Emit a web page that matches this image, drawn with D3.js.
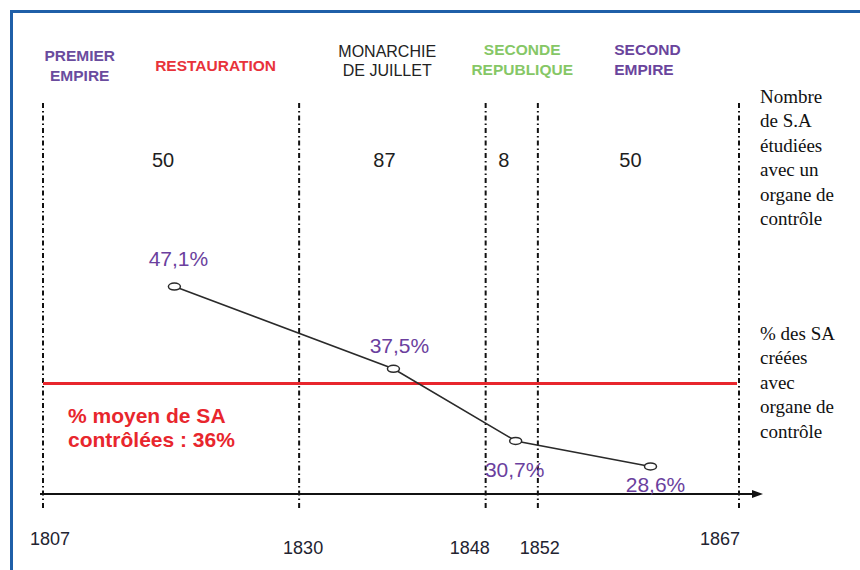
<!DOCTYPE html>
<html lang="fr">
<head>
  <meta charset="UTF-8">
  <meta name="viewport" content="width=device-width, initial-scale=1.0">
  <title>SA avec organe de contrôle</title>
  <style>
    body { margin: 0; background: #fff; }
    text { font-family: "Liberation Sans", Arial, sans-serif; }
    text.serif { font-family: "Liberation Serif", "Times New Roman", serif; }
  </style>
</head>
<body>
  <svg id="svg" width="860" height="570"></svg>
  <script src="https://d3js.org/d3.v7.min.js"></script>
  <script>
    // data
    const yearTicks = [1807, 1830, 1848, 1852, 1867]
    const periodNames = [['PREMIER', 'EMPIRE'], ['RESTAURATION'], ['MONARCHIE', 'DE JUILLET'], ['SECONDE', 'REPUBLIQUE'], ['SECOND', 'EMPIRE']]
    const periodCounts = [50, 87, 8, 50]
    const pointYears = [1818.8, 1839.1, 1850.3, 1860.4]
    const pctValues = [47.1, 37.5, 30.7, 28.6]
    const pctLabels = ['47,1%', '37,5%', '30,7%', '28,6%']
    const avgPct = 36
    const avgLabel = ['% moyen de SA', 'contrôlées : 36%']
    const noteCounts = ['Nombre', 'de S.A', 'étudiées', 'avec un', 'organe de', 'contrôle']
    const notePct = ['% des SA', 'créées', 'avec', 'organe de', 'contrôle']

    // layout
    const x0 = 43, x1 = 739
    const tickFrac = [0, 0.368, 0.636, 0.711, 1] // the time axis is not to scale
    const headerAt = [1810.3, 1822.5, 1838.5, 1850.8, 1857.7]
    const headerY = [[61, 81], [71], [57, 76], [55, 75], [55, 75]]
    const headerColor = ['#6a4c9e', '#e8323a', '#222', '#86c766', '#6a449c']
    const headerAnchor = ['middle', 'middle', 'middle', 'middle', 'start']
    const headerWeight = ['bold', 'bold', 'normal', 'bold', 'bold']
    const labelOff = [[4, -21], [6, -16], [-1, 36], [5, 26]]
    const yearLabelOff = [[7, 545], [4, 554], [-16, 554], [2, 554], [-19, 545]]

    const x = d3.scaleLinear()
      .domain(yearTicks)
      .range(tickFrac.map(f => x0 + f * (x1 - x0)))
    const y = d3.scaleLog()
      .domain([26.5, 50])
      .range([494, 265])

    const svg = d3.select('#svg')

    // blue frame
    svg.append('path')
      .attr('d', 'M11.5,570 V11.5 H860')
      .attr('fill', 'none')
      .attr('stroke', '#1f5fa8')
      .attr('stroke-width', 3)

    // dash-dot period separators
    svg.selectAll('.sep')
      .data(yearTicks)
      .enter()
      .append('line')
      .attr('x1', d => x(d))
      .attr('x2', d => x(d))
      .attr('y1', 103)
      .attr('y2', 510)
      .attr('stroke', '#111')
      .attr('stroke-width', 2)
      .attr('stroke-dasharray', '5,3,1.5,3')

    // period headers
    periodNames.forEach((lines, i) => {
      svg.append('text')
        .attr('x', x(headerAt[i]))
        .attr('text-anchor', headerAnchor[i])
        .attr('fill', headerColor[i])
        .attr('font-size', headerWeight[i] === 'bold' ? 15.5 : 16)
        .attr('font-weight', headerWeight[i])
        .selectAll('tspan')
        .data(lines)
        .enter()
        .append('tspan')
        .attr('x', x(headerAt[i]))
        .attr('y', (d, j) => headerY[i][j])
        .text(d => d)
    })

    // counts per period
    svg.selectAll('.count')
      .data(periodCounts)
      .enter()
      .append('text')
      .attr('x', (d, i) => x((yearTicks[i] + yearTicks[i + 1]) / 2) - 8)
      .attr('y', 167)
      .attr('text-anchor', 'middle')
      .attr('font-size', 20)
      .attr('fill', '#1e1e1e')
      .text(d => d)

    // average line
    const avgY = y(avgPct)
    svg.append('line')
      .attr('x1', x(yearTicks[0]))
      .attr('x2', x(yearTicks[4]) - 2)
      .attr('y1', avgY)
      .attr('y2', avgY)
      .attr('stroke', '#e8262d')
      .attr('stroke-width', 3)

    svg.append('text')
      .attr('fill', '#e8262d')
      .attr('font-size', 21)
      .attr('font-weight', 'bold')
      .selectAll('tspan')
      .data(avgLabel)
      .enter()
      .append('tspan')
      .attr('x', 68)
      .attr('y', (d, i) => avgY + 40 + i * 24)
      .text(d => d)

    // time axis with arrow
    const axisY = y.range()[0]
    svg.append('line')
      .attr('x1', 40)
      .attr('x2', 754)
      .attr('y1', axisY)
      .attr('y2', axisY)
      .attr('stroke', '#111')
      .attr('stroke-width', 2)
    svg.append('path')
      .attr('d', `M752,${axisY - 4} L763,${axisY} L752,${axisY + 4} Z`)
      .attr('fill', '#111')

    svg.selectAll('.year')
      .data(yearTicks)
      .enter()
      .append('text')
      .attr('x', (d, i) => x(d) + yearLabelOff[i][0])
      .attr('y', (d, i) => yearLabelOff[i][1])
      .attr('text-anchor', 'middle')
      .attr('font-size', 18)
      .attr('fill', '#232330')
      .text(d => d)

    // percentage line
    const pts = pointYears.map((yr, i) => ({ yr, v: pctValues[i], label: pctLabels[i] }))
    svg.append('path')
      .datum(pts)
      .attr('d', d3.line().x(d => x(d.yr)).y(d => y(d.v)))
      .attr('fill', 'none')
      .attr('stroke', '#2a2a2a')
      .attr('stroke-width', 1.6)

    svg.selectAll('.pt')
      .data(pts)
      .enter()
      .append('ellipse')
      .attr('cx', d => x(d.yr))
      .attr('cy', d => y(d.v))
      .attr('rx', 6)
      .attr('ry', 3.5)
      .attr('fill', '#fff')
      .attr('stroke', '#2a2a2a')
      .attr('stroke-width', 1.5)

    svg.selectAll('.pct')
      .data(pts)
      .enter()
      .append('text')
      .attr('x', (d, i) => x(d.yr) + labelOff[i][0])
      .attr('y', (d, i) => y(d.v) + labelOff[i][1])
      .attr('text-anchor', 'middle')
      .attr('font-size', 21)
      .attr('fill', '#6b3f9e')
      .text(d => d.label)

    // notes on the right, in a serif face
    const notes = [[noteCounts, 103], [notePct, 340]]
    notes.forEach(([lines, top]) => {
      svg.append('text')
        .attr('class', 'serif')
        .attr('font-size', 19)
        .attr('fill', '#111')
        .selectAll('tspan')
        .data(lines)
        .enter()
        .append('tspan')
        .attr('x', 760)
        .attr('y', (d, i) => top + i * 24.4)
        .text(d => d)
    })
  </script>
</body>
</html>
